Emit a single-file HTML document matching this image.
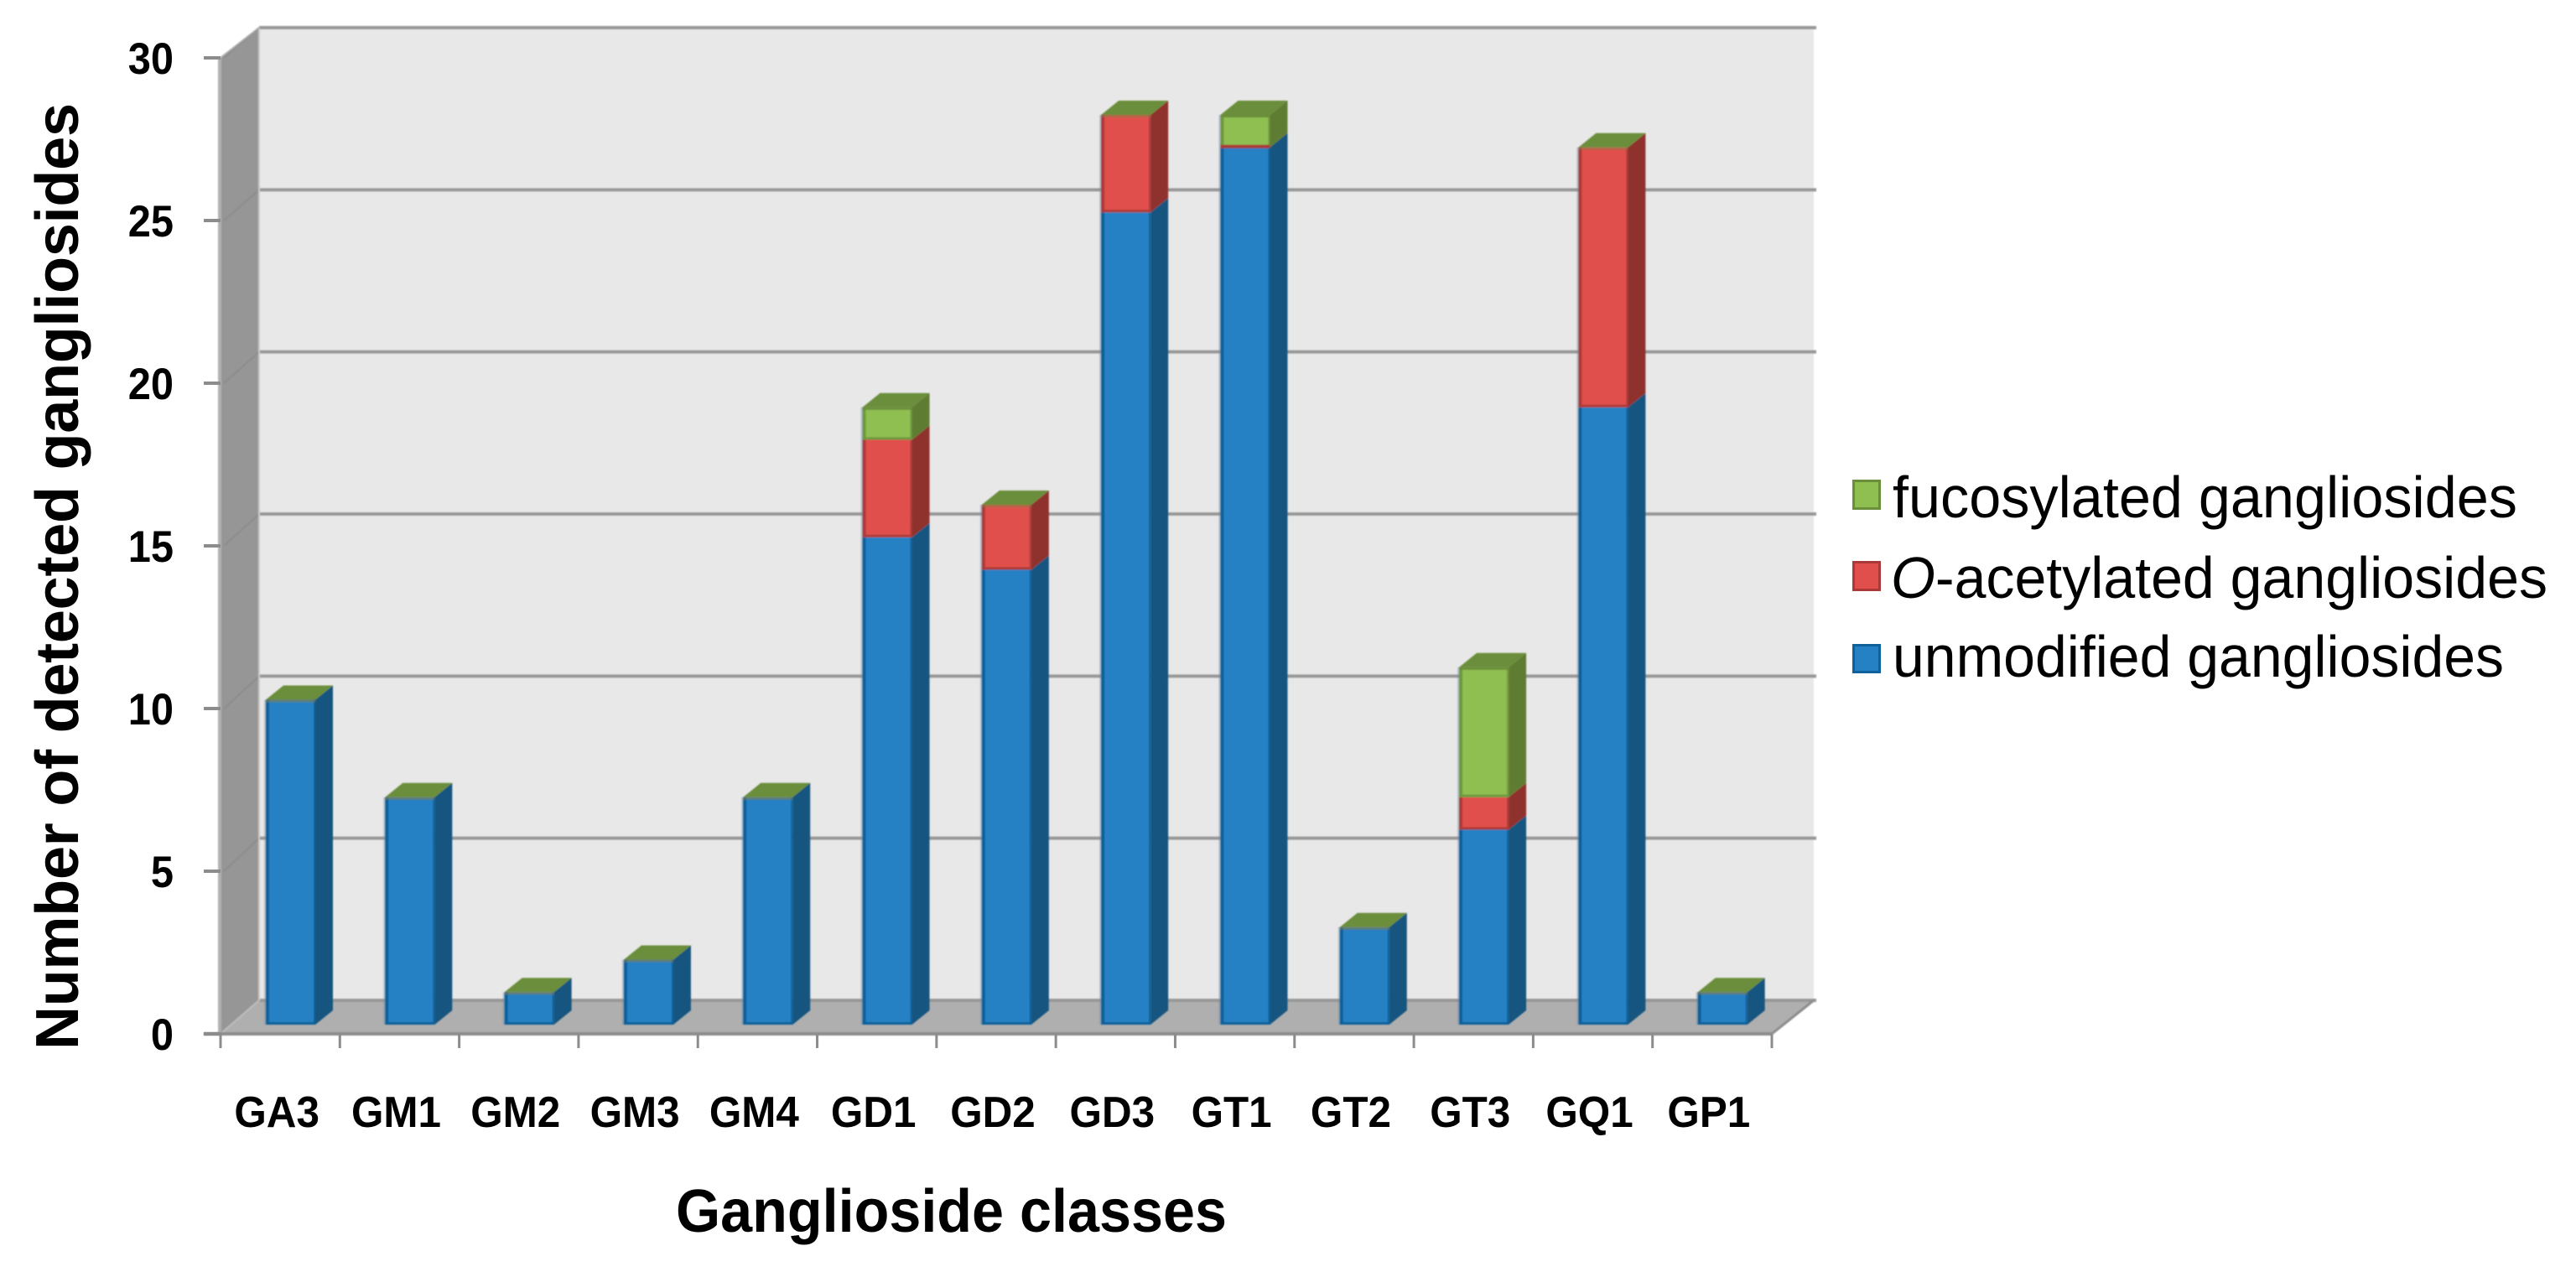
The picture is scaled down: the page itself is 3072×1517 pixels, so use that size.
<!DOCTYPE html>
<html lang="en">
<head>
<meta charset="utf-8">
<title>Number of detected gangliosides by class</title>
<style>
html,body{margin:0;padding:0;background:#fff;}
svg{display:block;}
text{font-family:"Liberation Sans",sans-serif;fill:#000;}
</style>
</head>
<body>
<svg id="chart" xmlns="http://www.w3.org/2000/svg" width="3072" height="1517" viewBox="0 0 3072 1517">
  <defs>
    <filter id="soft" x="-5%" y="-5%" width="110%" height="110%"><feGaussianBlur stdDeviation="0.7"/></filter>
  </defs>
  <g id="frame" filter="url(#soft)"></g>
  <g id="bars" filter="url(#soft)"></g>
  <g id="yTicks"></g>
  <g id="xTicks"></g>
  <text transform="translate(93,1252) rotate(-90)" font-size="72" font-weight="700" textLength="1129" lengthAdjust="spacing">Number of detected gangliosides</text>
  <text x="806" y="1469" font-size="72" font-weight="700" textLength="657" lengthAdjust="spacingAndGlyphs">Ganglioside classes</text>
  <g>
    <g>
      <rect x="2210.5" y="573.5" width="31" height="33" fill="#8fbe51" stroke="#6b8e3a" stroke-width="3"/>
      <text x="2257" y="617" font-size="70" textLength="745" lengthAdjust="spacingAndGlyphs">fucosylated gangliosides</text>
    </g>
    <g>
      <rect x="2210.5" y="670.5" width="31" height="33" fill="#e04f4b" stroke="#a93a38" stroke-width="3"/>
      <text x="2255" y="713" font-size="70" textLength="783" lengthAdjust="spacingAndGlyphs"><tspan font-style="italic">O</tspan>-acetylated gangliosides</text>
    </g>
    <g>
      <rect x="2210.5" y="769.5" width="31" height="32" fill="#2581c4" stroke="#0e619a" stroke-width="3"/>
      <text x="2257" y="807" font-size="70" textLength="729" lengthAdjust="spacingAndGlyphs">unmodified gangliosides</text>
    </g>
  </g>
</svg>
<script>
const categories = ["GA3","GM1","GM2","GM3","GM4","GD1","GD2","GD3","GT1","GT2","GT3","GQ1","GP1"];
const unmodified = [10,7,1,2,7,15,14,25,27,3,6,19,1];
const oAcetylated = [0,0,0,0,0,3,2,3,0,0,1,8,0];
const fucosylated = [0,0,0,0,0,1,0,0,1,0,4,0,0];
const yTickLabels = [0,5,10,15,20,25,30];

const NS = "http://www.w3.org/2000/svg";
const frame = document.getElementById("frame");
const barsG = document.getElementById("bars");
const yTicksG = document.getElementById("yTicks");
const xTicksG = document.getElementById("xTicks");

// Axis geometry
const yMax = 30;
const frontZeroY = 1233, frontTopY = 69;      // front edge of the plot
const backZeroY = 1193, backTopY = 33;        // back wall
const frontLeft = 263, frontRight = 2113;
const backLeft = 309, backRight = 2163;
const barBaseY = 1222, barTopY = 1222 - 38.75 * yMax;

function yFront(v){ return frontZeroY - (frontZeroY - frontTopY) * v / yMax; }
function yBack(v){ return backZeroY - (backZeroY - backTopY) * v / yMax; }
function yBar(v){ return barBaseY - (barBaseY - barTopY) * v / yMax; }
function catEdge(i){ return frontLeft + (frontRight - frontLeft) * i / categories.length; }
function barX(i){ return catEdge(i) + 54; }
function labelX(i){ return catEdge(i) + (frontRight - frontLeft) / categories.length / 2 - 4; }

const barW = 59, depthX = 21, depthY = 17;

function mk(tag, attrs, parent){
  const el = document.createElementNS(NS, tag);
  for (const k in attrs) el.setAttribute(k, attrs[k]);
  parent.appendChild(el);
  return el;
}
function pts(a){ return a.map(function(p){ return p[0] + "," + p[1]; }).join(" "); }

// Back wall
const backWall = mk("rect", {x: backLeft, y: backTopY, width: backRight - backLeft, height: backZeroY - backTopY, fill: "#e8e8e8"}, frame);



// Left wall
const leftWall = mk("polygon", {points: pts([[frontLeft,frontTopY],[backLeft,backTopY],[backLeft,backZeroY],[frontLeft,frontZeroY]]), fill: "#969696"}, frame);



// Floor
const floorPoly = mk("polygon", {points: pts([[frontLeft,frontZeroY],[backLeft,backZeroY],[backRight,backZeroY],[frontRight,frontZeroY]]), fill: "#afafaf"}, frame);



// Gridlines on back wall and left wall
yTickLabels.forEach(function(v){
  if (v > 0) {
    const wallLine = mk("line", {x1: frontLeft + 4, y1: yFront(v), x2: backLeft, y2: yBack(v), stroke: "#8c8c8c", "stroke-width": 2}, frame);
    
    
  }
  const grid = mk("line", {x1: backLeft, y1: yBack(v), x2: backRight + 3, y2: yBack(v), stroke: "#979797", "stroke-width": 4}, frame);
  
  
});

// Frame edges
const leftEdge = mk("line", {x1: frontLeft - 1, y1: frontTopY, x2: frontLeft - 1, y2: frontZeroY, stroke: "#b0b0b0", "stroke-width": 4}, frame);


const backEdge = mk("line", {x1: backLeft, y1: backTopY, x2: backLeft, y2: backZeroY, stroke: "#c9c9c9", "stroke-width": 2}, frame);


const topDiag = mk("line", {x1: frontLeft, y1: frontTopY, x2: backLeft, y2: backTopY, stroke: "#a8a8a8", "stroke-width": 2}, frame);


const floorLeftDiag = mk("line", {x1: frontLeft, y1: frontZeroY, x2: backLeft, y2: backZeroY, stroke: "#bdbdbd", "stroke-width": 2}, frame);


const floorRightDiag = mk("line", {x1: frontRight, y1: frontZeroY, x2: backRight, y2: backZeroY, stroke: "#8c8c8c", "stroke-width": 3}, frame);


const xAxisLine = mk("line", {x1: frontLeft - 20, y1: frontZeroY, x2: frontRight, y2: frontZeroY, stroke: "#8c8c8c", "stroke-width": 4}, frame);



// Stacked bars
const palette = [
  {face: "#2581c4", edge: "#0e619a", side: "#14547f", name: "unmodified"},
  {face: "#e04f4b", edge: "#ab3a38", side: "#8f312f", name: "o-acetylated"},
  {face: "#8fbe51", edge: "#6f9740", side: "#5e7d33", name: "fucosylated"}
];
const seriesList = [unmodified, oAcetylated, fucosylated];

categories.forEach(function(cat, i){
  const x = barX(i);
  const group = mk("g", {}, barsG);
  
  
  let cum = 0;
  let pendingSeam = null;
  seriesList.forEach(function(series, s){
    const val = series[i];
    const y0 = yBar(cum);
    const y1 = yBar(cum + val);
    const c = palette[s];
    const hasAbove = seriesList.slice(s + 1).some(function(other){ return other[i] > 0; });
    if (val > 0) {
      const side = mk("polygon", {points: pts([[x+barW,y0],[x+barW+depthX,y0-depthY],[x+barW+depthX,y1-depthY],[x+barW,y1]]), fill: c.side}, group);
      
      
      const face = mk("rect", {x: x, y: y1, width: barW, height: y0 - y1, fill: c.face}, group);
      
      
      const leftLine = mk("rect", {x: x, y: y1, width: 4, height: y0 - y1, fill: c.edge}, group);
      
      
      const rightLine = mk("rect", {x: x + barW - 2, y: y1, width: 2, height: y0 - y1, fill: c.edge}, group);
      
      
      const bottomLine = mk("rect", {x: x, y: y0 - 3, width: barW, height: 3, fill: c.edge}, group);
      
      
    } else if (s === 1 && hasAbove) {
      pendingSeam = {y: y0, fill: c.edge, name: c.name};
    }
    cum += val;
  });
  if (pendingSeam) {
    const seam = mk("rect", {x: x, y: pendingSeam.y - 3, width: barW, height: 4, fill: pendingSeam.fill}, group);
    
    
  }
  // Top cap belongs to the last (fucosylated) series, so it is always green
  const yt = yBar(cum);
  const top = mk("polygon", {points: pts([[x,yt],[x+depthX,yt-depthY],[x+barW+depthX,yt-depthY],[x+barW,yt]]), fill: "#6b8e3a"}, group);
  
  
  const topLine = mk("rect", {x: x, y: yt, width: barW, height: 3, fill: fucosylated[i] > 0 ? "#6b8e3a" : "#8a7a45", opacity: fucosylated[i] > 0 ? 1 : 0.55}, group);
  
  
  // Soft halo at the left of the column
  const haloL = mk("rect", {x: x - 2, y: yt, width: 2, height: barBaseY - yt, fill: "#6f8fa8", opacity: 0.45}, group);
  
  
});

// Y ticks and labels
yTickLabels.forEach(function(v){
  const y = yFront(v);
  const tick = mk("line", {x1: frontLeft - 20, y1: y, x2: frontLeft, y2: y, stroke: "#8c8c8c", "stroke-width": 4}, yTicksG);
  
  
  const label = mk("text", {x: 0, y: 0, "font-size": 53, "font-weight": 700, "text-anchor": "end", transform: "translate(207," + (y + 19) + ") scale(0.92,1)"}, yTicksG);
  label.textContent = String(v);
  
  
});

// X ticks and labels
for (let i = 0; i <= categories.length; i++) {
  const x = catEdge(i);
  const tick = mk("line", {x1: x, y1: frontZeroY, x2: x, y2: frontZeroY + 17, stroke: "#8c8c8c", "stroke-width": 3}, xTicksG);
  
  
}
categories.forEach(function(cat, i){
  const label = mk("text", {x: 0, y: 0, "font-size": 52, "font-weight": 700, "text-anchor": "middle", transform: "translate(" + labelX(i) + ",1344) scale(0.95,1)"}, xTicksG);
  label.textContent = cat;
  
  
});
</script>
</body>
</html>
